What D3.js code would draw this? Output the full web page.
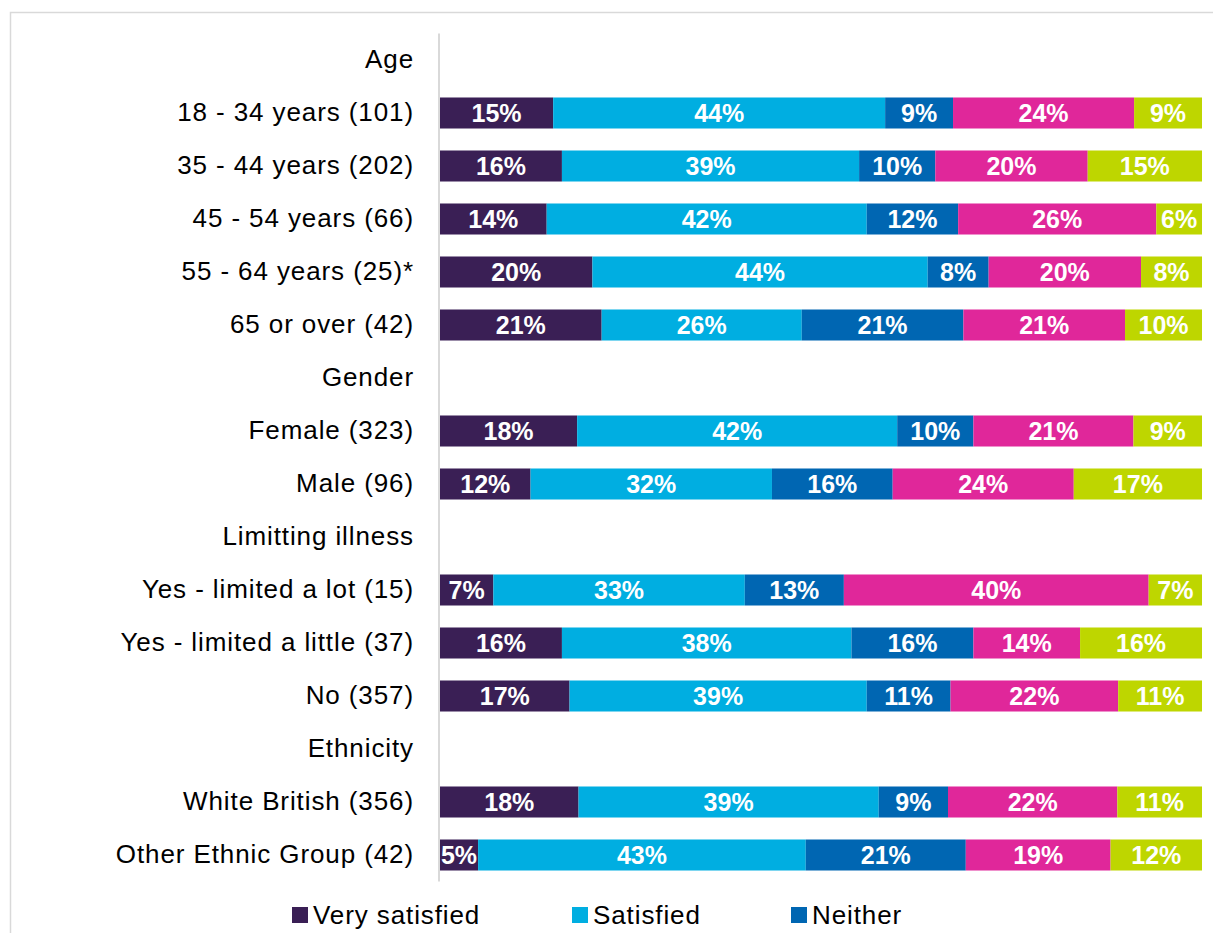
<!DOCTYPE html>
<meta charset="utf-8">
<head>
    <title>Satisfaction by group</title>
</head>
<style>
    body { margin: 0; background: #fff; }
    svg text { font-family: Arial, "Liberation Sans", sans-serif; }
</style>
<div id="chart"></div>
<script src="https://cdn.jsdelivr.net/npm/d3@7"></script>
<script>

    // rows top to bottom, header rows have no bar (null values)
    var categories = ["Age", "18 - 34 years (101)", "35 - 44 years (202)", "45 - 54 years (66)",
        "55 - 64 years (25)*", "65 or over (42)", "Gender", "Female (323)", "Male (96)",
        "Limitting illness", "Yes - limited a lot (15)", "Yes - limited a little (37)", "No (357)",
        "Ethnicity", "White British (356)", "Other Ethnic Group (42)"];

    var seriesNames = ["Very satisfied", "Satisfied", "Neither", "Dissatisfied", "Very dissatisfied"];
    var seriesColors = ["#3a1f55", "#00aee1", "#0066b2", "#e0279a", "#bed600"];

    var verySatisfied    = [null, 15, 16, 14, 20, 21, null, 18, 12, null, 7, 16, 17, null, 18, 5];
    var satisfied        = [null, 44, 39, 42, 44, 26, null, 42, 32, null, 33, 38, 39, null, 39, 43];
    var neither          = [null, 9, 10, 12, 8, 21, null, 10, 16, null, 13, 16, 11, null, 9, 21];
    var dissatisfied     = [null, 24, 20, 26, 20, 21, null, 21, 24, null, 40, 14, 22, null, 22, 19];
    var veryDissatisfied = [null, 9, 15, 6, 8, 10, null, 9, 17, null, 7, 16, 11, null, 11, 12];

    var seriesValues = [verySatisfied, satisfied, neither, dissatisfied, veryDissatisfied];

    var W = 1213, H = 933;
    var margin = {top: 33.5, left: 440, right: 11, bottom: 51.5};

    var svg = d3.select("#chart").append("svg")
        .attr("width", W)
        .attr("height", H);

    // light frame
    svg.append("path")
        .attr("d", "M10.5," + H + "V12.5H" + W)
        .attr("fill", "none")
        .attr("stroke", "#d9d9d9")
        .attr("stroke-width", 1.5);

    var y = d3.scaleBand()
        .domain(categories)
        .range([margin.top, H - margin.bottom])
        .paddingInner(0.415)
        .paddingOuter(0.2075);

    var x = d3.scaleLinear()
        .domain([0, 1])
        .range([margin.left, W - margin.right]);

    // build rows, each normalised to its own total
    var rows = categories.map(function(c, i) {
        if (verySatisfied[i] === null) return {cat: c, segs: []};
        var total = d3.sum(seriesValues, function(s) { return s[i]; });
        var acc = 0;
        var segs = seriesValues.map(function(s, k) {
            var seg = {k: k, v: s[i], x0: acc / total, x1: (acc + s[i]) / total};
            acc += s[i];
            return seg;
        });
        return {cat: c, segs: segs};
    });

    // category labels
    svg.append("g")
        .attr("transform", "translate(" + (margin.left - 26) + ",0)")
        .call(d3.axisLeft(y).tickSize(0).tickPadding(0))
        .call(function(g) { g.select(".domain").remove(); })
        .selectAll("text")
        .attr("font-size", 26)
        .attr("letter-spacing", "0.9px")
        .attr("fill", "#000")
        .attr("font-family", "Arial, 'Liberation Sans', sans-serif");

    var rowG = svg.selectAll(".row")
        .data(rows)
        .enter().append("g")
        .attr("class", "row");

    rowG.selectAll("rect")
        .data(function(d) { return d.segs.map(function(s) { s.cat = d.cat; return s; }); })
        .enter().append("rect")
        .attr("x", function(d) { return x(d.x0); })
        .attr("width", function(d) { return x(d.x1) - x(d.x0); })
        .attr("y", function(d) { return y(d.cat); })
        .attr("height", y.bandwidth())
        .attr("fill", function(d) { return seriesColors[d.k]; });

    rowG.selectAll("text")
        .data(function(d) { return d.segs; })
        .enter().append("text")
        .attr("x", function(d) { return (x(d.x0) + x(d.x1)) / 2; })
        .attr("y", function(d) { return y(d.cat) + y.bandwidth() / 2; })
        .attr("dy", "0.36em")
        .attr("text-anchor", "middle")
        .attr("font-size", 25)
        .attr("font-weight", "bold")
        .attr("fill", "#fff")
        .text(function(d) { return d.v + "%"; });

    // vertical axis line
    svg.append("line")
        .attr("x1", margin.left - 1).attr("x2", margin.left - 1)
        .attr("y1", margin.top).attr("y2", H - margin.bottom)
        .attr("stroke", "#d9d9d9")
        .attr("stroke-width", 2);

    // legend - only the first row of the legend is inside the picture
    var legendX = [292, 572, 791];
    var legend = svg.selectAll(".legend")
        .data(seriesNames.slice(0, legendX.length))
        .enter().append("g")
        .attr("class", "legend")
        .attr("transform", function(d, i) { return "translate(" + legendX[i] + ",915)"; });

    legend.append("rect")
        .attr("x", 0).attr("y", -8)
        .attr("width", 16).attr("height", 16)
        .attr("fill", function(d, i) { return seriesColors[i]; });

    legend.append("text")
        .attr("x", 21)
        .attr("dy", "0.36em")
        .attr("font-size", 26)
        .attr("letter-spacing", "0.9px")
        .attr("fill", "#000")
        .text(function(d) { return d; });

</script>
